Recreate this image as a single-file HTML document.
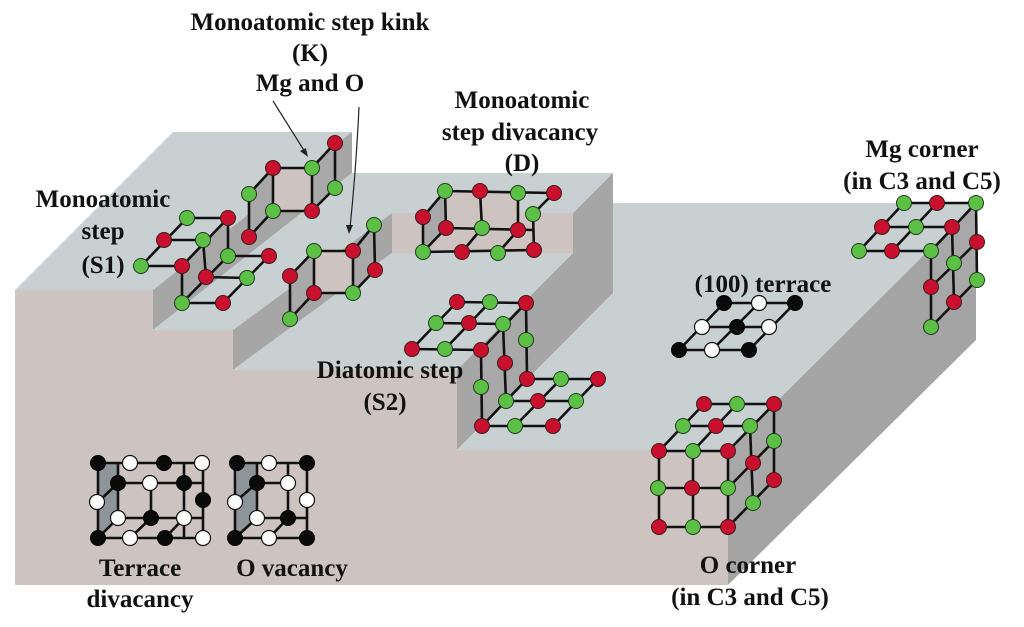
<!DOCTYPE html>
<html><head><meta charset="utf-8"><style>
html,body{margin:0;padding:0;background:#fff;}
svg{display:block;}
text{font-family:"Liberation Serif",serif;font-weight:bold;font-size:25px;fill:#111;text-anchor:middle;}
.l line{stroke:#111;stroke-width:2.6;}
.r{fill:#c8102e;stroke:#3a1a1a;stroke-width:1;}
.g{fill:#5cbf46;stroke:#1f3a1a;stroke-width:1;}
.b{fill:#0a0a0a;stroke:#000;stroke-width:1;}
.w{fill:#fff;stroke:#111;stroke-width:1.2;}
</style></head><body>
<svg width="1024" height="627" viewBox="0 0 1024 627" xmlns="http://www.w3.org/2000/svg">
<!-- block -->
<polygon points="15,290 153,290 153,330 233,330 233,370 457,370 457,450 728,450 728,585 15,585" fill="#cdc4c1"/>
<polygon points="728,450 976,203 976,340 728,585" fill="#a4a4a4"/>
<polygon points="15,290 173,132 352,132 153,290" fill="#c9d0d2"/>
<polygon points="153,290 352,132 352,173 153,330" fill="#a6a6a6"/>
<polygon points="153,330 352,173 613,173 573,213 392,213 233,330" fill="#c9d0d2"/>
<polygon points="233,330 392,213 392,253 233,370" fill="#a6a6a6"/>
<rect x="392" y="213" width="181" height="40" fill="#cdc4c1"/>
<polygon points="233,370 392,253 573,253 457,370" fill="#c9d0d2"/>
<polygon points="573,213 613,173 613,293 457,450 457,370 573,253" fill="#a6a6a6"/>
<polygon points="457,450 613,293 613,203 976,203 728,450" fill="#c9d0d2"/>

<!-- face fills -->
<polygon points="228,218 182,266 182,303 228,256" fill="#a8a8a8"/>
<polygon points="273,168 312,168 312,211 273,211" fill="#cdc4c1"/>
<polygon points="249,194 273,168 273,211 249,237" fill="#a8a8a8"/>
<polygon points="312,168 335,143 335,188 312,211" fill="#a8a8a8"/>
<polygon points="314,251 353,251 353,293 314,293" fill="#cdc4c1"/>
<polygon points="290,276 314,251 314,293 290,319" fill="#a8a8a8"/>
<polygon points="353,251 374,225 375,270 353,293" fill="#a8a8a8"/>
<polygon points="445,191 518,193 518,230 446,228" fill="#cdc4c1"/>
<polygon points="423,217 445,191 446,228 423,252" fill="#a8a8a8"/>
<polygon points="526,303 481,350 482,426 527,379" fill="#a8a8a8"/>
<polygon points="976,203 931,251 931,327 977,280" fill="#a8a8a8"/>
<polygon points="659,451 728,451 728,527 659,527" fill="#cdc4c1"/>
<polygon points="728,451 774,404 774,480 728,527" fill="#a8a8a8"/>
<polygon points="98,463 118,463 118,518 98,538" fill="#8e9598"/>
<polygon points="237,463 257,463 257,518 235,538" fill="#8e9598"/>

<g class="l">
<!-- S1 -->
<line x1="187" y1="218" x2="228" y2="218"/><line x1="164" y1="240" x2="203" y2="240"/><line x1="141" y1="266" x2="182" y2="266"/>
<line x1="187" y1="218" x2="141" y2="266"/><line x1="228" y1="218" x2="182" y2="266"/>
<line x1="228" y1="218" x2="228" y2="256"/><line x1="203" y1="240" x2="206" y2="277"/><line x1="182" y1="266" x2="182" y2="303"/>
<line x1="228" y1="256" x2="269" y2="256"/><line x1="206" y1="277" x2="247" y2="278"/><line x1="182" y1="303" x2="223" y2="303"/>
<line x1="228" y1="256" x2="182" y2="303"/><line x1="269" y1="256" x2="223" y2="303"/>
<!-- K upper -->
<line x1="273" y1="168" x2="312" y2="168"/><line x1="312" y1="168" x2="335" y2="143"/><line x1="273" y1="168" x2="249" y2="194"/>
<line x1="273" y1="168" x2="273" y2="211"/><line x1="312" y1="168" x2="312" y2="211"/><line x1="335" y1="143" x2="335" y2="188"/><line x1="249" y1="194" x2="249" y2="237"/>
<line x1="273" y1="211" x2="312" y2="211"/><line x1="312" y1="211" x2="335" y2="188"/><line x1="249" y1="237" x2="273" y2="211"/>
<!-- K lower -->
<line x1="314" y1="251" x2="353" y2="251"/><line x1="353" y1="251" x2="374" y2="225"/><line x1="314" y1="251" x2="290" y2="276"/>
<line x1="314" y1="251" x2="314" y2="293"/><line x1="353" y1="251" x2="353" y2="293"/><line x1="374" y1="225" x2="375" y2="270"/><line x1="290" y1="276" x2="290" y2="319"/>
<line x1="314" y1="293" x2="353" y2="293"/><line x1="353" y1="293" x2="375" y2="270"/><line x1="290" y1="319" x2="314" y2="293"/>
<!-- D -->
<line x1="445" y1="191" x2="554" y2="193"/><line x1="445" y1="191" x2="423" y2="217"/><line x1="554" y1="193" x2="533" y2="214"/>
<line x1="445" y1="191" x2="446" y2="228"/><line x1="480" y1="191" x2="482" y2="228"/><line x1="518" y1="193" x2="518" y2="230"/>
<line x1="423" y1="217" x2="423" y2="252"/><line x1="533" y1="214" x2="534" y2="250"/>
<line x1="446" y1="228" x2="534" y2="230"/><line x1="423" y1="252" x2="534" y2="250"/>
<line x1="446" y1="228" x2="423" y2="252"/><line x1="482" y1="228" x2="462" y2="252"/><line x1="518" y1="230" x2="498" y2="253"/>
<!-- S2 -->
<line x1="457" y1="302" x2="526" y2="303"/><line x1="436" y1="323" x2="503" y2="324"/><line x1="412" y1="349" x2="481" y2="350"/>
<line x1="457" y1="302" x2="412" y2="349"/><line x1="490" y1="302" x2="445" y2="349"/><line x1="526" y1="303" x2="481" y2="350"/>
<line x1="481" y1="350" x2="482" y2="426"/><line x1="503" y1="324" x2="506" y2="401"/><line x1="526" y1="303" x2="527" y2="379"/>
<line x1="527" y1="379" x2="598" y2="379"/><line x1="506" y1="401" x2="576" y2="401"/><line x1="482" y1="426" x2="553" y2="426"/>
<line x1="527" y1="379" x2="482" y2="426"/><line x1="561" y1="379" x2="515" y2="426"/><line x1="598" y1="379" x2="553" y2="426"/>
<!-- terrace -->
<line x1="724" y1="303" x2="795" y2="303"/><line x1="702" y1="327" x2="769" y2="327"/><line x1="679" y1="350" x2="749" y2="350"/>
<line x1="724" y1="303" x2="679" y2="350"/><line x1="759" y1="303" x2="712" y2="350"/><line x1="795" y1="303" x2="749" y2="350"/>
<!-- Mg corner -->
<line x1="904" y1="203" x2="976" y2="203"/><line x1="882" y1="227" x2="952" y2="227"/><line x1="859" y1="251" x2="931" y2="251"/>
<line x1="904" y1="203" x2="859" y2="251"/><line x1="937" y1="203" x2="892" y2="251"/><line x1="976" y1="203" x2="931" y2="251"/>
<line x1="976" y1="203" x2="977" y2="280"/><line x1="952" y1="227" x2="954" y2="302"/><line x1="931" y1="251" x2="931" y2="327"/>
<line x1="977" y1="242" x2="931" y2="287"/><line x1="977" y1="280" x2="931" y2="327"/>
<!-- O corner -->
<line x1="704" y1="404" x2="774" y2="404"/><line x1="683" y1="426" x2="750" y2="426"/><line x1="659" y1="451" x2="728" y2="451"/>
<line x1="704" y1="404" x2="659" y2="451"/><line x1="737" y1="404" x2="693" y2="451"/><line x1="774" y1="404" x2="728" y2="451"/>
<line x1="659" y1="451" x2="659" y2="527"/><line x1="693" y1="451" x2="693" y2="527"/><line x1="728" y1="451" x2="728" y2="527"/>
<line x1="659" y1="488" x2="728" y2="488"/><line x1="659" y1="527" x2="728" y2="527"/>
<line x1="750" y1="426" x2="753" y2="503"/><line x1="774" y1="404" x2="774" y2="480"/>
<line x1="728" y1="488" x2="774" y2="441"/><line x1="728" y1="527" x2="774" y2="480"/>
<!-- terrace divacancy -->
<line x1="98" y1="463" x2="203" y2="463"/><line x1="98" y1="538" x2="203" y2="538"/><line x1="98" y1="463" x2="98" y2="538"/><line x1="203" y1="463" x2="203" y2="538"/>
<line x1="118" y1="483" x2="203" y2="483"/><line x1="118" y1="518" x2="203" y2="518"/>
<line x1="118" y1="463" x2="118" y2="518"/><line x1="151" y1="483" x2="151" y2="518"/><line x1="184" y1="463" x2="184" y2="538"/>
<line x1="118" y1="483" x2="98" y2="502"/><line x1="118" y1="518" x2="98" y2="538"/><line x1="151" y1="518" x2="130" y2="538"/><line x1="184" y1="518" x2="165" y2="538"/>
<!-- O vacancy -->
<line x1="235" y1="463" x2="307" y2="463"/><line x1="235" y1="538" x2="307" y2="538"/><line x1="235" y1="463" x2="235" y2="538"/><line x1="307" y1="463" x2="307" y2="538"/>
<line x1="257" y1="483" x2="288" y2="483"/><line x1="257" y1="518" x2="307" y2="518"/>
<line x1="257" y1="463" x2="257" y2="518"/><line x1="288" y1="463" x2="288" y2="518"/>
<line x1="257" y1="483" x2="235" y2="502"/><line x1="257" y1="518" x2="235" y2="538"/><line x1="288" y1="518" x2="269" y2="538"/>
</g>

<!-- atoms -->
<g>
<circle class="g" cx="187" cy="218" r="7.5"/><circle class="r" cx="228" cy="218" r="7.5"/><circle class="r" cx="164" cy="240" r="7.5"/><circle class="g" cx="203" cy="240" r="7.5"/>
<circle class="g" cx="141" cy="266" r="7.5"/><circle class="r" cx="182" cy="266" r="7.5"/><circle class="g" cx="228" cy="256" r="7.5"/><circle class="r" cx="269" cy="256" r="7.5"/>
<circle class="r" cx="206" cy="277" r="7.5"/><circle class="g" cx="247" cy="278" r="7.5"/><circle class="g" cx="182" cy="303" r="7.5"/><circle class="r" cx="223" cy="303" r="7.5"/>

<circle class="r" cx="273" cy="168" r="7.5"/><circle class="g" cx="312" cy="168" r="7.5"/><circle class="r" cx="335" cy="143" r="7.5"/><circle class="g" cx="249" cy="194" r="7.5"/>
<circle class="g" cx="273" cy="211" r="7.5"/><circle class="r" cx="312" cy="211" r="7.5"/><circle class="g" cx="335" cy="188" r="7.5"/><circle class="r" cx="249" cy="237" r="7.5"/>

<circle class="g" cx="374" cy="225" r="7.5"/><circle class="r" cx="353" cy="251" r="7.5"/><circle class="g" cx="314" cy="251" r="7.5"/><circle class="r" cx="375" cy="270" r="7.5"/>
<circle class="r" cx="290" cy="276" r="7.5"/><circle class="r" cx="314" cy="293" r="7.5"/><circle class="g" cx="353" cy="293" r="7.5"/><circle class="g" cx="290" cy="319" r="7.5"/>

<circle class="g" cx="445" cy="191" r="7.5"/><circle class="r" cx="480" cy="191" r="7.5"/><circle class="g" cx="518" cy="193" r="7.5"/><circle class="r" cx="554" cy="193" r="7.5"/>
<circle class="r" cx="423" cy="217" r="7.5"/><circle class="g" cx="533" cy="214" r="7.5"/><circle class="r" cx="446" cy="228" r="7.5"/><circle class="g" cx="482" cy="228" r="7.5"/>
<circle class="r" cx="518" cy="230" r="7.5"/><circle class="g" cx="423" cy="252" r="7.5"/><circle class="r" cx="462" cy="252" r="7.5"/><circle class="g" cx="498" cy="253" r="7.5"/><circle class="r" cx="534" cy="250" r="7.5"/>

<circle class="r" cx="457" cy="302" r="7.5"/><circle class="g" cx="490" cy="302" r="7.5"/><circle class="r" cx="526" cy="303" r="7.5"/>
<circle class="g" cx="436" cy="323" r="7.5"/><circle class="r" cx="469" cy="323" r="7.5"/><circle class="g" cx="503" cy="324" r="7.5"/>
<circle class="r" cx="412" cy="349" r="7.5"/><circle class="g" cx="445" cy="349" r="7.5"/><circle class="r" cx="481" cy="350" r="7.5"/>
<circle class="g" cx="526" cy="340" r="7.5"/><circle class="r" cx="505" cy="363" r="7.5"/><circle class="g" cx="481" cy="387" r="7.5"/>
<circle class="r" cx="527" cy="379" r="7.5"/><circle class="g" cx="561" cy="379" r="7.5"/><circle class="r" cx="598" cy="379" r="7.5"/>
<circle class="g" cx="506" cy="401" r="7.5"/><circle class="r" cx="538" cy="401" r="7.5"/><circle class="g" cx="576" cy="401" r="7.5"/>
<circle class="r" cx="482" cy="426" r="7.5"/><circle class="g" cx="515" cy="426" r="7.5"/><circle class="r" cx="553" cy="426" r="7.5"/>

<circle class="b" cx="724" cy="303" r="7.5"/><circle class="w" cx="759" cy="303" r="7.5"/><circle class="b" cx="795" cy="303" r="7.5"/>
<circle class="w" cx="702" cy="327" r="7.5"/><circle class="b" cx="737" cy="327" r="7.5"/><circle class="w" cx="769" cy="327" r="7.5"/>
<circle class="b" cx="679" cy="350" r="7.5"/><circle class="w" cx="712" cy="350" r="7.5"/><circle class="b" cx="749" cy="350" r="7.5"/>

<circle class="g" cx="904" cy="203" r="7.5"/><circle class="r" cx="937" cy="203" r="7.5"/><circle class="g" cx="976" cy="203" r="7.5"/>
<circle class="r" cx="882" cy="227" r="7.5"/><circle class="g" cx="916" cy="227" r="7.5"/><circle class="r" cx="952" cy="227" r="7.5"/>
<circle class="g" cx="859" cy="251" r="7.5"/><circle class="r" cx="892" cy="251" r="7.5"/><circle class="g" cx="931" cy="251" r="7.5"/>
<circle class="r" cx="977" cy="242" r="7.5"/><circle class="g" cx="977" cy="280" r="7.5"/><circle class="g" cx="954" cy="263" r="7.5"/>
<circle class="r" cx="954" cy="302" r="7.5"/><circle class="r" cx="931" cy="287" r="7.5"/><circle class="g" cx="931" cy="327" r="7.5"/>

<circle class="r" cx="704" cy="404" r="7.5"/><circle class="g" cx="737" cy="404" r="7.5"/><circle class="r" cx="774" cy="404" r="7.5"/>
<circle class="g" cx="683" cy="426" r="7.5"/><circle class="r" cx="716" cy="426" r="7.5"/><circle class="g" cx="750" cy="426" r="7.5"/>
<circle class="r" cx="659" cy="451" r="7.5"/><circle class="g" cx="693" cy="451" r="7.5"/><circle class="r" cx="728" cy="451" r="7.5"/>
<circle class="g" cx="658" cy="488" r="7.5"/><circle class="r" cx="692" cy="488" r="7.5"/><circle class="g" cx="728" cy="488" r="7.5"/>
<circle class="r" cx="659" cy="527" r="7.5"/><circle class="g" cx="693" cy="527" r="7.5"/><circle class="r" cx="728" cy="527" r="7.5"/>
<circle class="r" cx="753" cy="463" r="7.5"/><circle class="g" cx="753" cy="503" r="7.5"/><circle class="g" cx="774" cy="441" r="7.5"/><circle class="r" cx="774" cy="480" r="7.5"/>

<circle class="b" cx="98" cy="463" r="7.5"/><circle class="w" cx="130" cy="463" r="7.5"/><circle class="b" cx="164" cy="463" r="7.5"/><circle class="w" cx="202" cy="463" r="7.5"/>
<circle class="b" cx="118" cy="483" r="7.5"/><circle class="w" cx="150" cy="483" r="7.5"/><circle class="b" cx="184" cy="483" r="7.5"/>
<circle class="w" cx="97" cy="502" r="7.5"/><circle class="b" cx="203" cy="500" r="7.5"/>
<circle class="w" cx="118" cy="518" r="7.5"/><circle class="b" cx="151" cy="518" r="7.5"/><circle class="w" cx="184" cy="518" r="7.5"/>
<circle class="b" cx="98" cy="538" r="7.5"/><circle class="w" cx="130" cy="538" r="7.5"/><circle class="b" cx="165" cy="538" r="7.5"/><circle class="w" cx="203" cy="538" r="7.5"/>

<circle class="b" cx="237" cy="463" r="7.5"/><circle class="w" cx="269" cy="463" r="7.5"/><circle class="b" cx="307" cy="463" r="7.5"/>
<circle class="b" cx="257" cy="483" r="7.5"/><circle class="w" cx="288" cy="483" r="7.5"/>
<circle class="w" cx="235" cy="502" r="7.5"/><circle class="w" cx="307" cy="500" r="7.5"/>
<circle class="w" cx="257" cy="518" r="7.5"/><circle class="b" cx="288" cy="518" r="7.5"/>
<circle class="b" cx="235" cy="538" r="7.5"/><circle class="w" cx="269" cy="538" r="7.5"/><circle class="b" cx="307" cy="538" r="7.5"/>
</g>

<!-- arrows -->
<line x1="273" y1="101" x2="305" y2="152" stroke="#222" stroke-width="1.2"/>
<polygon points="308,157 300,151 306,148" fill="#222"/>
<path d="M359,107 Q356,170 350,228" fill="none" stroke="#222" stroke-width="1.2"/>
<polygon points="349,234 346,225 353,225" fill="#222"/>

<!-- labels -->
<text x="310" y="30">Monoatomic step kink</text>
<text x="310" y="61">(K)</text>
<text x="310" y="91">Mg and O</text>
<text x="522" y="108">Monoatomic</text>
<text x="520" y="140">step divacancy</text>
<text x="522" y="171">(D)</text>
<text x="103" y="207">Monoatomic</text>
<text x="103" y="239">step</text>
<text x="103" y="273">(S1)</text>
<text x="390" y="378">Diatomic step</text>
<text x="385" y="410">(S2)</text>
<text x="763" y="292">(100) terrace</text>
<text x="922" y="157">Mg corner</text>
<text x="922" y="189">(in C3 and C5)</text>
<text x="748" y="573">O corner</text>
<text x="750" y="605">(in C3 and C5)</text>
<text x="140" y="576">Terrace</text>
<text x="140" y="607">divacancy</text>
<text x="292" y="576">O vacancy</text>
</svg>
</body></html>
